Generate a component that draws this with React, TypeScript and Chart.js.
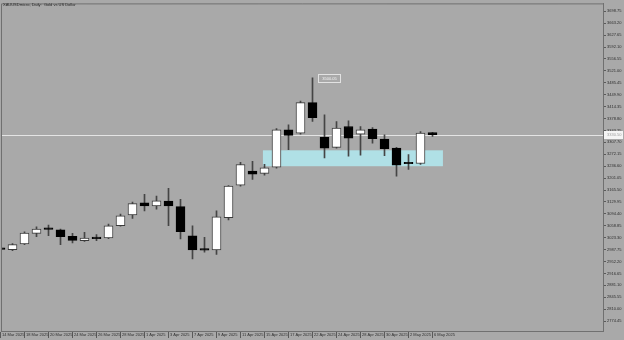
import { useEffect, useRef } from "react";
import { Chart, registerables } from "chart.js";

Chart.register(...registerables);

const titleText = "XAUUSDmicro, Daily:  Gold vs US Dollar";

const dates = [
  "14 Mar 2025", "17 Mar 2025", "18 Mar 2025", "19 Mar 2025", "20 Mar 2025", "21 Mar 2025",
  "24 Mar 2025", "25 Mar 2025", "26 Mar 2025", "27 Mar 2025", "28 Mar 2025", "31 Mar 2025",
  "1 Apr 2025", "2 Apr 2025", "3 Apr 2025", "4 Apr 2025", "7 Apr 2025", "8 Apr 2025",
  "9 Apr 2025", "10 Apr 2025", "11 Apr 2025", "14 Apr 2025", "15 Apr 2025", "16 Apr 2025",
  "17 Apr 2025", "21 Apr 2025", "22 Apr 2025", "23 Apr 2025", "24 Apr 2025", "25 Apr 2025",
  "28 Apr 2025", "29 Apr 2025", "30 Apr 2025", "1 May 2025", "2 May 2025", "5 May 2025",
  "6 May 2025",
];

const opens = [
  2992.8, 2987.8, 3004.6, 3036.0, 3052.0, 3047.0, 3027.2, 3014.4, 3022.9, 3022.4, 3058.9, 3091.4,
  3127.0, 3118.1, 3132.9, 3116.0, 3029.2, 2988.2, 2986.9, 3083.4, 3180.3, 3221.8, 3215.0, 3233.6,
  3345.3, 3335.3, 3426.2, 3322.5, 3292.9, 3355.1, 3332.3, 3347.1, 3317.5, 3290.8, 3246.0, 3244.6,
  3337.3,
];
const highs = [
  2995.2, 3005.5, 3041.1, 3055.9, 3060.9, 3049.1, 3036.0, 3039.0, 3032.2, 3063.9, 3093.5, 3129.9,
  3152.8, 3147.7, 3170.5, 3137.9, 3058.9, 3024.2, 3103.3, 3179.0, 3248.4, 3251.4, 3242.5, 3349.2,
  3360.1, 3431.2, 3500.05, 3389.8, 3369.9, 3372.0, 3355.1, 3352.2, 3330.5, 3292.9, 3271.3, 3340.3,
  3337.6,
];
const lows = [
  2986.3, 2984.8, 3002.6, 3026.3, 3029.2, 3002.6, 3007.6, 3012.4, 3014.4, 3020.3, 3057.4, 3080.5,
  3103.3, 3108.3, 3058.9, 3019.4, 2960.2, 2979.8, 2973.0, 3076.6, 3177.4, 3197.2, 3209.9, 3230.7,
  3286.1, 3332.3, 3369.9, 3261.2, 3290.8, 3266.2, 3269.2, 3305.6, 3268.3, 3207.0, 3226.8, 3241.6,
  3325.5,
];
const closes = [
  2988.6, 3002.6, 3037.2, 3049.1, 3047.9, 3026.3, 3015.3, 3022.4, 3020.6, 3058.9, 3088.5, 3124.9,
  3118.1, 3133.0, 3118.1, 3041.1, 2986.9, 2986.4, 3085.5, 3177.4, 3241.6, 3212.9, 3231.6, 3345.3,
  3328.4, 3426.2, 3381.8, 3290.8, 3350.1, 3320.4, 3345.3, 3318.7, 3289.0, 3239.6, 3244.0, 3335.3,
  3330.5,
];

const yTicks = [
  3698.75, 3663.2, 3627.65, 3592.1, 3556.55, 3521.0, 3485.45, 3449.9, 3414.35, 3378.8, 3343.25,
  3307.7, 3272.15, 3236.6, 3201.05, 3165.5, 3129.95, 3094.4, 3058.85, 3023.3, 2987.75, 2952.2,
  2916.65, 2881.1, 2845.55, 2810.0, 2774.45,
];
const xTickIdx = [0, 2, 4, 6, 8, 10, 12, 14, 16, 18, 20, 22, 24, 26, 28, 30, 32, 34, 36];

const yMin = 2744.83;
const yMax = 3722.45;
const xMin = 0.0417;
const xMax = 50.208;

const zoneFrom = 21.87;
const zoneTo = 36.87;
const zoneHigh = 3284.0;
const zoneLow = 3236.6;

const currentPrice = 3330.5;
const peakIndex = 26;
const peakLabel = "3500.05";

const FONT = "'Liberation Sans', Arial, sans-serif";
const BG = "#a9a9a9";

const overlay = {
  id: "overlay",
  beforeDatasetsDraw(chart: any) {
    const { ctx, chartArea, scales } = chart;
    const x = scales.x;
    const y = scales.y;
    ctx.save();
    ctx.beginPath();
    ctx.rect(chartArea.left, chartArea.top, chartArea.right - chartArea.left, chartArea.bottom - chartArea.top);
    ctx.clip();
    const x1 = x.getPixelForValue(zoneFrom);
    const x2 = x.getPixelForValue(zoneTo);
    const y1 = y.getPixelForValue(zoneHigh);
    const y2 = y.getPixelForValue(zoneLow);
    ctx.fillStyle = "#b0e0e6";
    ctx.fillRect(x1, y1, x2 - x1, y2 - y1);
    const yp = Math.round(y.getPixelForValue(currentPrice)) + 0.5;
    ctx.strokeStyle = "#e4e4e4";
    ctx.lineWidth = 1;
    ctx.beginPath();
    ctx.moveTo(chartArea.left, yp);
    ctx.lineTo(chartArea.right, yp);
    ctx.stroke();
    ctx.restore();
  },
  afterDraw(chart: any) {
    const { ctx, chartArea, scales } = chart;
    const x = scales.x;
    const y = scales.y;
    ctx.save();
    // frame left/top
    ctx.strokeStyle = "#707070";
    ctx.lineWidth = 1;
    ctx.beginPath();
    ctx.moveTo(chartArea.left + 0.5, chartArea.bottom);
    ctx.lineTo(chartArea.left + 0.5, chartArea.top + 0.5);
    ctx.lineTo(chartArea.right, chartArea.top + 0.5);
    ctx.stroke();

    // title
    ctx.fillStyle = "#2a2a2a";
    ctx.font = `4px ${FONT}`;
    ctx.textBaseline = "top";
    ctx.textAlign = "left";
    ctx.fillText(titleText, 3, 2.5);

    // peak label
    const px = x.getPixelForValue(peakIndex);
    const py = y.getPixelForValue(highs[peakIndex]);
    const bx = Math.round(px + 5) + 0.5;
    const by = Math.round(py - 4) + 0.5;
    ctx.fillStyle = BG;
    ctx.fillRect(bx, by, 22, 8);
    ctx.strokeStyle = "#e2e2e2";
    ctx.strokeRect(bx, by, 22, 8);
    ctx.fillStyle = "#f4f4f4";
    ctx.font = `4px ${FONT}`;
    ctx.textAlign = "center";
    ctx.textBaseline = "middle";
    ctx.fillText(peakLabel, bx + 11, by + 4.3);

    // current price box on axis
    const cy = y.getPixelForValue(currentPrice);
    ctx.fillStyle = "#f4f4f4";
    ctx.fillRect(chartArea.right + 1, Math.round(cy - 4), 19, 8);
    ctx.fillStyle = "#a0a0a0";
    ctx.textAlign = "left";
    ctx.fillText(currentPrice.toFixed(2), chartArea.right + 4, Math.round(cy - 4) + 4.3);
    ctx.restore();
  },
};

export default function App() {
  const ref = useRef<HTMLCanvasElement | null>(null);

  useEffect(() => {
    document.body.style.margin = "0";
    document.body.style.background = BG;
    const canvas = ref.current;
    if (!canvas) return;
    const isUp = opens.map((o, i) => closes[i] >= o);
    const chart = new Chart(canvas, {
      type: "bar",
      data: {
        datasets: [
          {
            label: "body",
            data: opens.map((o, i) => ({ x: i, y: [o, closes[i]] })) as any,
            backgroundColor: isUp.map((u) => (u ? "#ffffff" : "#000000")),
            borderColor: isUp.map((u) => (u ? "#3a3a3a" : "#000000")),
            borderWidth: 1,
            borderSkipped: false,
            barThickness: 9,
            minBarLength: 1.5,
            grouped: false,
            order: 0,
          } as any,
          {
            label: "wick",
            data: lows.map((l, i) => ({ x: i, y: [l, highs[i]] })) as any,
            backgroundColor: "#454545",
            borderWidth: 0,
            barThickness: 1,
            grouped: false,
            order: 1,
          } as any,
        ],
      },
      options: {
        animation: false,
        responsive: false,
        maintainAspectRatio: false,
        events: [],
        layout: { padding: { left: 1, top: 1, right: 0, bottom: 0 } },
        plugins: {
          legend: { display: false },
          tooltip: { enabled: false },
          title: { display: false },
        },
        scales: {
          x: {
            type: "linear",
            min: xMin,
            max: xMax,
            offset: false,
            grid: {
              display: true,
              drawOnChartArea: false,
              drawTicks: true,
              tickLength: 7,
              color: "#5a5a5a",
              offset: false,
            },
            border: { display: true, color: "#707070" },
            ticks: {
              autoSkip: false,
              maxRotation: 0,
              minRotation: 0,
              align: "start",
              padding: -6,
              labelOffset: 1.5,
              color: "#2e2e2e",
              font: { family: FONT, size: 4 },
              callback: (v: any) => dates[Math.round(Number(v))] ?? "",
            },
            afterBuildTicks: (s: any) => {
              s.ticks = xTickIdx.map((v) => ({ value: v }));
            },
            afterFit: (s: any) => {
              s.height = 9;
            },
          } as any,
          y: {
            type: "linear",
            position: "right",
            min: yMin,
            max: yMax,
            grid: {
              drawOnChartArea: false,
              drawTicks: true,
              tickLength: 3,
              color: "#5a5a5a",
            },
            border: { display: true, color: "#707070" },
            ticks: {
              padding: 1,
              color: "#2e2e2e",
              font: { family: FONT, size: 4 },
              callback: (v: any) => Number(v).toFixed(2),
            },
            afterBuildTicks: (s: any) => {
              s.ticks = yTicks.map((v) => ({ value: v }));
            },
            afterFit: (s: any) => {
              s.width = 21;
            },
          } as any,
        },
      },
      plugins: [overlay],
    });
    return () => chart.destroy();
  }, []);

  return (
    <div style={{ width: 624, height: 340, background: BG }}>
      <canvas ref={ref} width={624} height={340} style={{ display: "block", width: 624, height: 340 }} />
    </div>
  );
}
